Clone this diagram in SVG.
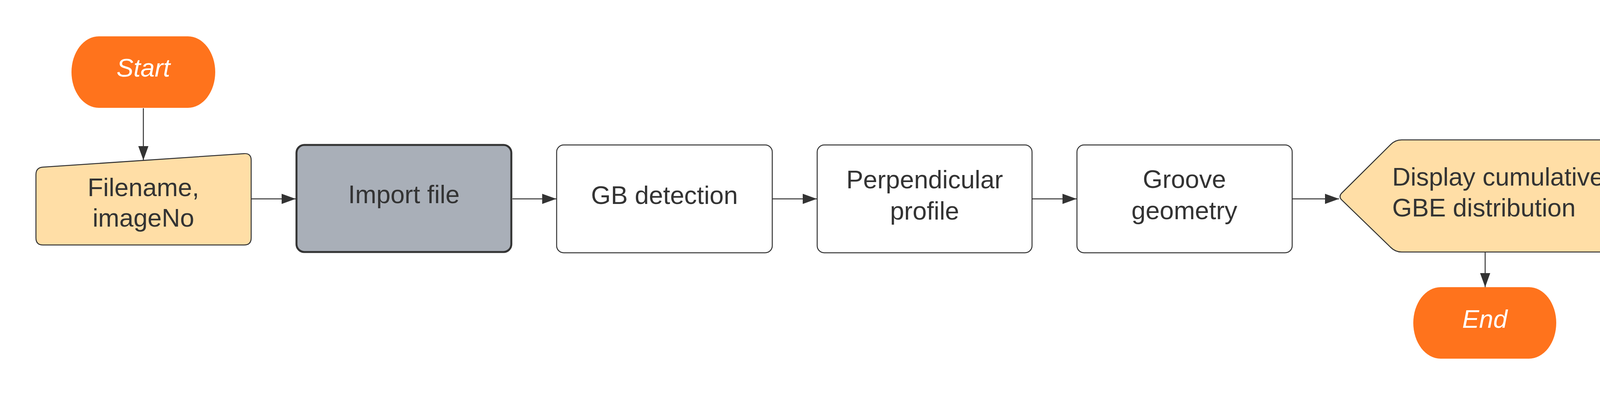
<svg xmlns="http://www.w3.org/2000/svg" width="4271" height="1011" viewBox="0 0 4271 1011">
  <style>
    .lbl { font-family: "Liberation Sans", Arial, sans-serif; font-size: 65px; fill: #333333; text-anchor: middle; }
    .term { fill: #FF731C; stroke: none; }
    .termtxt { font-family: "Liberation Sans", Arial, sans-serif; font-size: 65px; font-style: italic; fill: #FFFFFF; text-anchor: middle; }
    .proc { fill: #FFFFFF; stroke: #333333; stroke-width: 2.5; }
    .peach { fill: #FFDEA6; stroke: #333333; stroke-width: 2.5; }
    .conn { fill: none; stroke: #333333; stroke-width: 2.5; marker-end: url(#arrow); }
  </style>
  <defs>
    <marker id="arrow" markerUnits="userSpaceOnUse" markerWidth="36" markerHeight="26" refX="36" refY="13" orient="auto">
      <path d="M0,0 L36,13 L0,26 Z" fill="#333333"/>
    </marker>
  </defs>
  <rect width="4271" height="1011" fill="#FFFFFF"/>

  <g id="connectors">
    <path class="conn" d="M367,277 L367,410"/>
    <path class="conn" d="M643,509 L757,509"/>
    <path class="conn" d="M1312,509 L1424,509"/>
    <path class="conn" d="M1977,509 L2091,509"/>
    <path class="conn" d="M2642,509 L2756,509"/>
    <path class="conn" d="M3308,509 L3428,509"/>
    <path class="conn" d="M3802,646 L3802,735"/>
  </g>

  <g id="start">
    <rect class="term" x="183" y="93" width="368" height="183" rx="70" ry="91.5"/>
    <text class="termtxt" x="367" y="196">Start</text>
  </g>

  <g id="filename">
    <path class="peach" d="M92,447 Q92,429 110,427.8 L625,393.2 Q643,392 643,410 L643,609 Q643,627 625,627 L110,627 Q92,627 92,609 Z"/>
    <text class="lbl" x="367" y="502">Filename,</text>
    <text class="lbl" x="367" y="580">imageNo</text>
  </g>

  <g id="import-file">
    <rect x="759" y="371" width="550" height="274" rx="20" ry="20" fill="#A9AFB8" stroke="#333333" stroke-width="5"/>
    <text class="lbl" x="1034" y="520">Import file</text>
  </g>

  <g id="gb-detection">
    <rect class="proc" x="1425" y="371" width="552" height="276" rx="18" ry="18"/>
    <text class="lbl" x="1701" y="522">GB detection</text>
  </g>

  <g id="perpendicular-profile">
    <rect class="proc" x="2092" y="371" width="550" height="276" rx="18" ry="18"/>
    <text class="lbl" x="2367" y="482">Perpendicular</text>
    <text class="lbl" x="2367" y="562">profile</text>
  </g>

  <g id="groove-geometry">
    <rect class="proc" x="2757" y="371" width="551" height="276" rx="18" ry="18"/>
    <text class="lbl" x="3032" y="481">Groove</text>
    <text class="lbl" x="3032" y="561">geometry</text>
  </g>

  <g id="display">
    <path class="peach" d="M3434,495 L3560,370 Q3572,358 3588,358 L4107,358 A71,143.5 0 0 1 4107,645 L3588,645 Q3572,645 3560,633 L3434,511 Q3427,503 3434,495 Z"/>
    <text class="lbl" x="3564" y="475" style="text-anchor:start">Display cumulative</text>
    <text class="lbl" x="3564" y="554" style="text-anchor:start">GBE distribution</text>
  </g>

  <g id="end">
    <rect class="term" x="3618" y="735" width="366" height="183" rx="70" ry="91.5"/>
    <text class="termtxt" x="3801" y="839">End</text>
  </g>
</svg>
